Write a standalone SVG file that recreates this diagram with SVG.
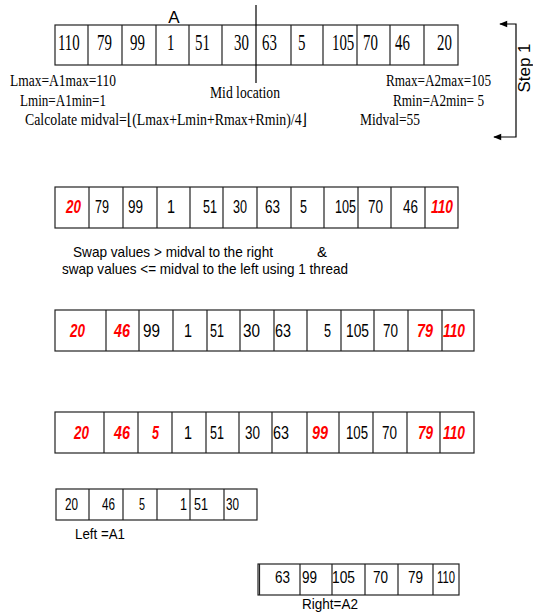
<svg xmlns="http://www.w3.org/2000/svg" width="533" height="616" viewBox="0 0 533 616">
<defs>
<style>
.box{fill:#fff;stroke:#222;stroke-width:1.2}
.div{stroke:#222;stroke-width:1.2;fill:none}
.ser{font-family:"Liberation Serif","Times New Roman","DejaVu Serif",serif;fill:#000}
.n1{font-size:24px}
.f16{font-size:16px}
.sans{font-family:"Liberation Sans",Arial,sans-serif;fill:#000}
.n2{font-size:18px}
.n3{font-size:17px}
.red{fill:#ff0000;font-weight:bold;font-style:italic}
.ln{stroke:#000;stroke-width:1.2;fill:none}
</style>
<marker id="ah" viewBox="0 0 10 10" refX="9" refY="5" markerWidth="9" markerHeight="8" markerUnits="userSpaceOnUse" orient="auto-start-reverse">
<path d="M0,1 L10,5 L0,9 Z" fill="#000"/>
</marker>
</defs>
<rect width="533" height="616" fill="#fff"/>

<g id="arrayA">
<rect class="box" x="55" y="25" width="403" height="40"/>
<path class="div" d="M88,25V65M122,25V65M156,25V65M189,25V65M222,25V65M291,25V65M323,25V65M357,25V65M390,25V65M424,25V65"/>
<g class="ser n1" transform="scale(0.62,1)">
<text x="93.5" y="50">110</text>
<text x="156.5" y="50">79</text>
<text x="209.7" y="50">99</text>
<text x="269.4" y="50">1</text>
<text x="314.5" y="50">51</text>
<text x="377.4" y="50">30</text>
<text x="422.6" y="50">63</text>
<text x="480.6" y="50">5</text>
<text x="535.5" y="50">105</text>
<text x="585.5" y="50">70</text>
<text x="637.1" y="50">46</text>
<text x="704.8" y="50">20</text>
</g>
<text class="sans" x="174" y="23" font-size="17" text-anchor="middle">A</text>
</g>

<g id="labels">
<text class="ser f16" x="10" y="86" textLength="106" lengthAdjust="spacingAndGlyphs">Lmax=A1max=110</text>
<text class="ser f16" x="20" y="106" textLength="86" lengthAdjust="spacingAndGlyphs">Lmin=A1min=1</text>
<text class="ser f16" x="25" y="125" textLength="282" lengthAdjust="spacingAndGlyphs">Calcolate midval=⌊(Lmax+Lmin+Rmax+Rmin)/4⌋</text>
<text class="ser f16" x="210" y="98" textLength="70" lengthAdjust="spacingAndGlyphs">Mid location</text>
<text class="ser f16" x="386" y="86" textLength="105" lengthAdjust="spacingAndGlyphs">Rmax=A2max=105</text>
<text class="ser f16" x="393" y="106" textLength="91" lengthAdjust="spacingAndGlyphs">Rmin=A2min= 5</text>
<text class="ser f16" x="360" y="125" textLength="60" lengthAdjust="spacingAndGlyphs">Midval=55</text>
<text class="sans" font-size="17" transform="translate(530,68) rotate(-90)" text-anchor="middle">Step 1</text>
<text class="sans" font-size="15" x="73" y="257" textLength="200" lengthAdjust="spacingAndGlyphs">Swap values &gt; midval to the right</text>
<text class="sans" font-size="15" x="317" y="257">&amp;</text>
<text class="sans" font-size="15" x="62" y="274" textLength="286" lengthAdjust="spacingAndGlyphs">swap values &lt;= midval to the left using 1 thread</text>
</g>

<g id="row2">
<rect class="box" x="55" y="187" width="403" height="41"/>
<path class="div" d="M89,187V228M123,187V228M157,187V228M190,187V228M223,187V228M257,187V228M291,187V228M324,187V228M358,187V228M391,187V228M425,187V228"/>
<g class="sans n2">
<text class="red" x="66" y="213" textLength="15" lengthAdjust="spacingAndGlyphs">20</text>
<text x="95" y="213" textLength="14" lengthAdjust="spacingAndGlyphs">79</text>
<text x="128" y="213" textLength="15" lengthAdjust="spacingAndGlyphs">99</text>
<text x="167" y="213" textLength="8" lengthAdjust="spacingAndGlyphs">1</text>
<text x="203" y="213" textLength="14" lengthAdjust="spacingAndGlyphs">51</text>
<text x="233" y="213" textLength="14" lengthAdjust="spacingAndGlyphs">30</text>
<text x="265" y="213" textLength="15" lengthAdjust="spacingAndGlyphs">63</text>
<text x="300" y="213" textLength="7" lengthAdjust="spacingAndGlyphs">5</text>
<text x="335" y="213" textLength="21" lengthAdjust="spacingAndGlyphs">105</text>
<text x="368" y="213" textLength="15" lengthAdjust="spacingAndGlyphs">70</text>
<text x="403" y="213" textLength="15" lengthAdjust="spacingAndGlyphs">46</text>
<text class="red" x="431" y="213" textLength="22" lengthAdjust="spacingAndGlyphs">110</text>
</g>
</g>

<g id="row3">
<rect class="box" x="55" y="310" width="419" height="41"/>
<path class="div" d="M106,310V351M139,310V351M173,310V351M207,310V351M240,310V351M274,310V351M307,310V351M341,310V351M374,310V351M408,310V351M442,310V351"/>
<g class="sans n2">
<text class="red" x="70" y="337" textLength="15" lengthAdjust="spacingAndGlyphs">20</text>
<text class="red" x="114" y="337" textLength="16" lengthAdjust="spacingAndGlyphs">46</text>
<text x="143" y="337" textLength="17" lengthAdjust="spacingAndGlyphs">99</text>
<text x="184" y="337" textLength="8" lengthAdjust="spacingAndGlyphs">1</text>
<text x="210" y="337" textLength="14" lengthAdjust="spacingAndGlyphs">51</text>
<text x="243" y="337" textLength="17" lengthAdjust="spacingAndGlyphs">30</text>
<text x="275" y="337" textLength="16" lengthAdjust="spacingAndGlyphs">63</text>
<text x="324" y="337" textLength="7" lengthAdjust="spacingAndGlyphs">5</text>
<text x="346" y="337" textLength="23" lengthAdjust="spacingAndGlyphs">105</text>
<text x="383" y="337" textLength="15" lengthAdjust="spacingAndGlyphs">70</text>
<text class="red" x="417" y="337" textLength="16" lengthAdjust="spacingAndGlyphs">79</text>
<text class="red" x="443" y="337" textLength="22" lengthAdjust="spacingAndGlyphs">110</text>
</g>
</g>

<g id="row4">
<rect class="box" x="55" y="412" width="419" height="41"/>
<path class="div" d="M104,412V453M138,412V453M172,412V453M206,412V453M239,412V453M272,412V453M307,412V453M339,412V453M373,412V453M407,412V453M440,412V453"/>
<g class="sans n2">
<text class="red" x="74" y="439" textLength="15" lengthAdjust="spacingAndGlyphs">20</text>
<text class="red" x="114" y="439" textLength="16" lengthAdjust="spacingAndGlyphs">46</text>
<text class="red" x="152" y="439" textLength="7" lengthAdjust="spacingAndGlyphs">5</text>
<text x="184" y="439" textLength="8" lengthAdjust="spacingAndGlyphs">1</text>
<text x="210" y="439" textLength="14" lengthAdjust="spacingAndGlyphs">51</text>
<text x="245" y="439" textLength="15" lengthAdjust="spacingAndGlyphs">30</text>
<text x="273" y="439" textLength="16" lengthAdjust="spacingAndGlyphs">63</text>
<text class="red" x="312" y="439" textLength="16" lengthAdjust="spacingAndGlyphs">99</text>
<text x="346" y="439" textLength="22" lengthAdjust="spacingAndGlyphs">105</text>
<text x="382" y="439" textLength="15" lengthAdjust="spacingAndGlyphs">70</text>
<text class="red" x="418" y="439" textLength="15" lengthAdjust="spacingAndGlyphs">79</text>
<text class="red" x="443" y="439" textLength="22" lengthAdjust="spacingAndGlyphs">110</text>
</g>
</g>

<g id="leftA1">
<rect class="box" x="56" y="489" width="201" height="31"/>
<path class="div" d="M89,489V520M123,489V520M157,489V520M190,489V520M224,489V520"/>
<g class="sans n3">
<text x="65" y="510" textLength="13" lengthAdjust="spacingAndGlyphs">20</text>
<text x="102" y="510" textLength="13" lengthAdjust="spacingAndGlyphs">46</text>
<text x="139" y="510" textLength="6" lengthAdjust="spacingAndGlyphs">5</text>
<text x="180" y="510" textLength="7" lengthAdjust="spacingAndGlyphs">1</text>
<text x="194" y="510" textLength="14" lengthAdjust="spacingAndGlyphs">51</text>
<text x="226" y="510" textLength="13" lengthAdjust="spacingAndGlyphs">30</text>
</g>
<text class="sans" font-size="15" x="75" y="539" textLength="50" lengthAdjust="spacingAndGlyphs">Left =A1</text>
</g>

<g id="rightA2">
<rect class="box" x="258" y="564" width="201" height="31"/>
<path class="div" d="M259.5,564V595M300,564V595M332,564V595M365,564V595M398,564V595M433,564V595"/>
<g class="sans n3">
<text x="275" y="583" textLength="15" lengthAdjust="spacingAndGlyphs">63</text>
<text x="302" y="583" textLength="15" lengthAdjust="spacingAndGlyphs">99</text>
<text x="332" y="583" textLength="23" lengthAdjust="spacingAndGlyphs">105</text>
<text x="373" y="583" textLength="15" lengthAdjust="spacingAndGlyphs">70</text>
<text x="408" y="583" textLength="15" lengthAdjust="spacingAndGlyphs">79</text>
<text x="437" y="583" textLength="18" lengthAdjust="spacingAndGlyphs">110</text>
</g>
<text class="sans" font-size="15" x="302" y="609" textLength="56" lengthAdjust="spacingAndGlyphs">Right=A2</text>
</g>

<g id="connectors">
<path class="ln" d="M256,5V83"/>
<path class="ln" d="M500,24H516V137H494" marker-start="url(#ah)" marker-end="url(#ah)"/>
</g>
</svg>
